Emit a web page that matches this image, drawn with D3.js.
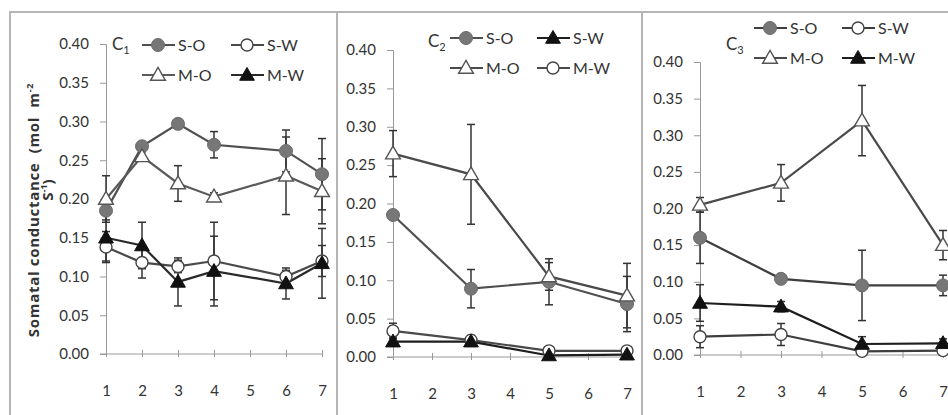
<!DOCTYPE html>
<html>
<head>
<meta charset="utf-8">
<script src="https://cdn.jsdelivr.net/npm/d3@7"></script>
<style>
  body { margin: 0; background: #fff; }
  svg { display: block; font-family: Lato, "Open Sans", sans-serif; }
</style>
</head>
<body>
<div id="chart"></div>
<script>
// chart size
const width = 948;
const height = 415;

// ---- data ----
const yTicks = [0, 0.05, 0.10, 0.15, 0.20, 0.25, 0.30, 0.35, 0.40];
const xTicks = [1, 2, 3, 4, 5, 6, 7];

// panel C1
const c1Days = [1, 2, 3, 4, 6, 7];
const c1SO = [0.185, 0.268, 0.297, 0.270, 0.262, 0.232];
const c1SOerr = [0.012, 0.006, 0.006, 0.017, 0.027, 0.046];
const c1MO = [0.200, 0.255, 0.220, 0.203, 0.230, 0.210];
const c1MOerr = [0.030, 0.006, 0.023, 0.005, 0.050, 0.042];
const c1SW = [0.138, 0.118, 0.113, 0.120, 0.100, 0.120];
const c1SWerr = [0.020, 0.020, 0.008, 0.050, 0.008, 0.020];
const c1MW = [0.150, 0.140, 0.093, 0.107, 0.091, 0.117];
const c1MWerr = [0.030, 0.030, 0.031, 0.045, 0.020, 0.045];

// panel C2
const c2Days = [1, 3, 5, 7];
const c2SO = [0.185, 0.089, 0.098, 0.069];
const c2SOerr = [0.005, 0.025, 0.030, 0.036];
const c2MO = [0.265, 0.238, 0.105, 0.080];
const c2MOerr = [0.030, 0.065, 0.018, 0.042];
const c2SW = [0.020, 0.020, 0.002, 0.003];
const c2SWerr = [0.006, 0.005, 0.003, 0.003];
const c2MW = [0.034, 0.022, 0.008, 0.008];
const c2MWerr = [0.010, 0.006, 0.004, 0.004];

// panel C3
const c3Days = [1, 3, 5, 7];
const c3SO = [0.160, 0.104, 0.095, 0.095];
const c3SOerr = [0.035, 0.004, 0.048, 0.014];
const c3MO = [0.205, 0.235, 0.320, 0.150];
const c3MOerr = [0.010, 0.025, 0.048, 0.020];
const c3SW = [0.025, 0.028, 0.005, 0.006];
const c3SWerr = [0.015, 0.015, 0.003, 0.003];
const c3MW = [0.071, 0.066, 0.015, 0.016];
const c3MWerr = [0.025, 0.007, 0.010, 0.006];

// panel layout: where the axes sit
const panels = [
  { name: "1", days: c1Days, x0: 106, x1: 322, yTop: 44, yBot: 354,
    series: [
      { label: "S-O", v: c1SO, e: c1SOerr, marker: "dot", color: "#505050" },
      { label: "M-O", v: c1MO, e: c1MOerr, marker: "triOpen", color: "#5a5a5a" },
      { label: "S-W", v: c1SW, e: c1SWerr, marker: "circOpen", color: "#4a4a4a" },
      { label: "M-W", v: c1MW, e: c1MWerr, marker: "triFill", color: "#2a2a2a" }
    ],
    legend: { cx: 112, cy: 50, rows: [[142, 45], [231, 45], [142, 75], [231, 75]],
              order: ["S-O", "S-W", "M-O", "M-W"] } },
  { name: "2", days: c2Days, x0: 393, x1: 627, yTop: 50, yBot: 357,
    series: [
      { label: "S-O", v: c2SO, e: c2SOerr, marker: "dot", color: "#505050" },
      { label: "M-O", v: c2MO, e: c2MOerr, marker: "triOpen", color: "#4a4a4a" },
      { label: "M-W", v: c2MW, e: c2MWerr, marker: "circOpen", color: "#4a4a4a" },
      { label: "S-W", v: c2SW, e: c2SWerr, marker: "triFill", color: "#1e1e1e" }
    ],
    legend: { cx: 428, cy: 47, rows: [[450, 38], [537, 38], [450, 68], [537, 68]],
              order: ["S-O", "S-W", "M-O", "M-W"] } },
  { name: "3", days: c3Days, x0: 700, x1: 943, yTop: 62, yBot: 355,
    series: [
      { label: "S-O", v: c3SO, e: c3SOerr, marker: "dot", color: "#3e3e3e" },
      { label: "M-O", v: c3MO, e: c3MOerr, marker: "triOpen", color: "#4a4a4a" },
      { label: "S-W", v: c3SW, e: c3SWerr, marker: "circOpen", color: "#3e3e3e" },
      { label: "M-W", v: c3MW, e: c3MWerr, marker: "triFill", color: "#1e1e1e" }
    ],
    legend: { cx: 726, cy: 50, rows: [[754, 28], [842, 28], [754, 58], [842, 58]],
              order: ["S-O", "S-W", "M-O", "M-W"] } }
];

const svg = d3.select("#chart")
  .append("svg")
  .attr("width", width)
  .attr("height", height);

// outer frame and dividers
const frame = svg.append("g").attr("stroke", "#b5b5b5").attr("stroke-width", 2).attr("fill", "none");
frame.append("path").attr("d", `M10,${height + 2}V12H${width + 2}`);
frame.append("line").attr("x1", 337).attr("x2", 337).attr("y1", 12).attr("y2", height + 2);
frame.append("line").attr("x1", 642).attr("x2", 642).attr("y1", 12).attr("y2", height + 2);

const triPath = d3.symbol().type(d3.symbolTriangle).size(95);

function drawMarker(g, type, x, y) {
  if (type === "dot") {
    g.append("circle").attr("cx", x).attr("cy", y).attr("r", 6.5)
      .attr("fill", "#777").attr("stroke", "#6a6a6a").attr("stroke-width", 1);
  } else if (type === "circOpen") {
    g.append("circle").attr("cx", x).attr("cy", y).attr("r", 6)
      .attr("fill", "#fff").attr("stroke", "#444").attr("stroke-width", 1.4);
  } else if (type === "triOpen") {
    g.append("path").attr("d", triPath()).attr("transform", `translate(${x},${y + 1})`)
      .attr("fill", "#fff").attr("stroke", "#555").attr("stroke-width", 1.4);
  } else {
    g.append("path").attr("d", triPath()).attr("transform", `translate(${x},${y + 1})`)
      .attr("fill", "#111").attr("stroke", "#111").attr("stroke-width", 1);
  }
}

panels.forEach(p => {
  const x = d3.scaleLinear().domain([1, 7]).range([p.x0, p.x1]);
  const y = d3.scaleLinear().domain([0, 0.40]).range([p.yBot, p.yTop]);
  const g = svg.append("g");

  // y axis
  const yAxis = g.append("g")
    .attr("transform", `translate(${p.x0},0)`)
    .call(d3.axisLeft(y).tickValues(yTicks).tickFormat(d3.format(".2f")).tickSize(6).tickPadding(11));
  yAxis.select(".domain").attr("stroke", "#999");
  yAxis.selectAll(".tick line").attr("stroke", "#999");
  yAxis.selectAll("text").attr("font-size", 15).attr("fill", "#333").attr("font-family", "Lato, sans-serif");

  // x axis
  const xAxis = g.append("g")
    .attr("transform", `translate(0,${p.yBot})`)
    .call(d3.axisBottom(x).tickValues(xTicks).tickFormat(d3.format("d")).tickSize(4).tickPadding(27));
  xAxis.select(".domain").attr("stroke", "#999").attr("d", `M${p.x0 - 6},0H${p.x1}`);
  xAxis.selectAll(".tick line").attr("stroke", "#999").attr("y1", -4).attr("y2", 3);
  xAxis.selectAll("text").attr("font-size", 15).attr("fill", "#333").attr("font-family", "Lato, sans-serif");

  const line = d3.line().x(d => x(d[0])).y(d => y(d[1]));

  // lines
  p.series.forEach(s => {
    const pts = p.days.map((d, i) => [d, s.v[i]]);
    g.append("path").datum(pts).attr("d", line)
      .attr("fill", "none").attr("stroke", s.color).attr("stroke-width", 2.2);
  });

  // error bars
  p.series.forEach(s => {
    p.days.forEach((d, i) => {
      const cx = x(d), lo = y(s.v[i] - s.e[i]), hi = y(s.v[i] + s.e[i]);
      const eb = g.append("g").attr("stroke", "#333").attr("stroke-width", 1.5);
      eb.append("line").attr("x1", cx).attr("x2", cx).attr("y1", lo).attr("y2", hi);
      eb.append("line").attr("x1", cx - 4).attr("x2", cx + 4).attr("y1", lo).attr("y2", lo);
      eb.append("line").attr("x1", cx - 4).attr("x2", cx + 4).attr("y1", hi).attr("y2", hi);
    });
  });

  // markers
  p.series.forEach(s => {
    p.days.forEach((d, i) => drawMarker(g, s.marker, x(d), y(s.v[i])));
  });

  // panel label C1/C2/C3
  const lab = g.append("text").attr("x", p.legend.cx).attr("y", p.legend.cy)
    .attr("font-size", 17).attr("fill", "#333");
  lab.append("tspan").text("C");
  lab.append("tspan").attr("font-size", 11).attr("dy", 4).text(p.name);

  // legend
  p.legend.order.forEach((name, k) => {
    const s = p.series.find(q => q.label === name);
    const [lx, ly] = p.legend.rows[k];
    g.append("line").attr("x1", lx).attr("x2", lx + 33).attr("y1", ly).attr("y2", ly)
      .attr("stroke", s.color).attr("stroke-width", 2.2);
    drawMarker(g, s.marker, lx + 16, ly);
    g.append("text").attr("x", lx + 36).attr("y", ly + 5.5)
      .attr("font-size", 16).attr("fill", "#333").text(name);
  });
});

// y axis title (non-breaking spaces keep the wide gaps)
const nb = "\u00a0";
const title = svg.append("g").attr("fill", "#333").attr("font-weight", "bold")
  .attr("font-size", 15).attr("font-family", "'Open Sans', sans-serif");
const t1 = title.append("text").attr("transform", "translate(39,210) rotate(-90)")
  .attr("text-anchor", "middle").attr("letter-spacing", 0.7);
t1.append("tspan").text(`Somatal conductance${nb}${nb}(mol${nb}${nb}m`);
t1.append("tspan").attr("font-size", 9).attr("dy", -6).text("-2");
const t2 = title.append("text").attr("transform", "translate(53,190) rotate(-90)").attr("text-anchor", "middle");
t2.append("tspan").text("S");
t2.append("tspan").attr("font-size", 9).attr("dy", -6).text("-1");
t2.append("tspan").attr("dy", 6).text(")");
</script>
</body>
</html>
